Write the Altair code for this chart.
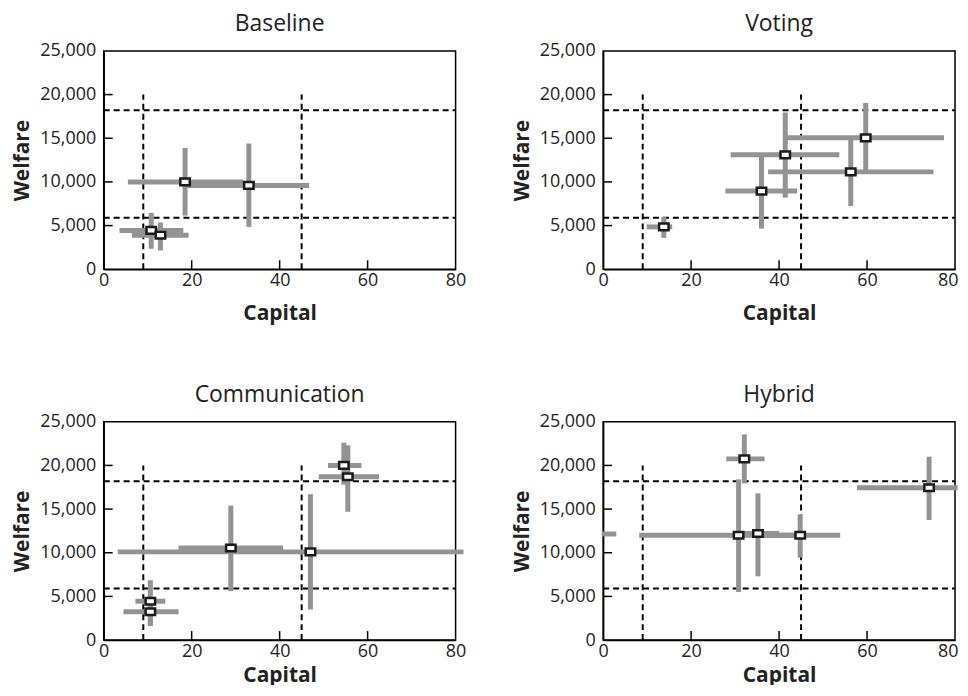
import altair as alt
import pandas as pd

FONT = "Open Sans"
GREY = "#939393"
DARK = "#1a1a1a"

panel_names = ["Baseline", "Voting", "Communication", "Hybrid"]

# Baseline
base_cap = [18.5, 33.0, 10.8, 12.9]
base_welf = [10000, 9600, 4450, 3900]
base_cap_lo = [5.5, 18.9, 3.6, 6.4]
base_cap_hi = [31.7, 46.7, 18.1, 19.3]
base_welf_lo = [6150, 4850, 2350, 2150]
base_welf_hi = [13900, 14400, 6450, 5350]

# Voting
vot_cap = [13.8, 36.0, 41.4, 56.3, 59.7]
vot_welf = [4850, 8950, 13100, 11150, 15050]
vot_cap_lo = [9.9, 27.8, 29.0, 37.5, 41.8]
vot_cap_hi = [15.7, 44.1, 53.7, 75.1, 77.5]
vot_welf_lo = [3600, 4650, 8200, 7250, 11200]
vot_welf_hi = [6000, 13100, 17950, 14900, 19050]

# Communication
com_cap = [10.6, 10.6, 28.9, 47.0, 54.6, 55.5]
com_welf = [4450, 3250, 10550, 10100, 20000, 18700]
com_cap_lo = [7.2, 4.5, 17.0, 3.2, 51.0, 48.9]
com_cap_hi = [14.0, 17.0, 40.8, 81.8, 58.6, 62.6]
com_welf_lo = [1600, 1700, 5600, 3500, 17800, 14700]
com_welf_hi = [6850, 4400, 15400, 16700, 22600, 22300]

# Hybrid
hyb_cap = [32.1, 30.8, 35.2, 44.8, 74.1]
hyb_welf = [20750, 12000, 12200, 12000, 17450]
hyb_cap_lo = [28.0, 8.2, 30.0, 36.0, 57.7]
hyb_cap_hi = [36.7, 45.0, 40.0, 53.9, 80.6]
hyb_welf_lo = [17950, 5500, 7300, 9450, 13750]
hyb_welf_hi = [23550, 18400, 16800, 14400, 21000]
# a stray horizontal bar with no visible marker
hyb_extra_lo = [-0.3]
hyb_extra_hi = [3.0]
hyb_extra_welf = [12150]

# Reference lines
v_lines = [9, 45]
v_line_top = 20000
h_lines = [18200, 5900]

x_ticks = [0, 20, 40, 60, 80]
y_ticks = [0, 5000, 10000, 15000, 20000, 25000]
x_inner_ticks = [20, 40, 60]
y_inner_ticks = [5000, 10000, 15000, 20000]

W, H = 353, 219

xs = alt.Scale(domain=[0, 80], nice=False, zero=False)
ys = alt.Scale(domain=[0, 25000], nice=False, zero=False)

yaxis = alt.Axis(values=y_ticks, ticks=False, grid=False, labelFlush=False, format=",.0f",
                 labelPadding=8, titlePadding=7, domainColor="black", domainWidth=1.5)


def panel(name, cap, welf, clo, chi, wlo, whi, xtp, right_col, extra=None):
    ax_kw = dict(values=x_ticks, ticks=False, grid=False, labelFlush=False,
                 labelPadding=2, titlePadding=xtp, domainColor="black", domainWidth=1.5)
    if right_col:
        # keep the last label inside the page edge
        ax_kw["labelAlign"] = alt.ExprRef(expr="datum.value === 80 ? 'right' : 'center'")
        ax_kw["labelOffset"] = alt.ExprRef(expr="datum.value === 80 ? 3 : 0")
    xaxis = alt.Axis(**ax_kw)

    def X(field):
        return alt.X(field, type="quantitative", scale=xs, axis=xaxis, title="Capital")

    def Y(field):
        return alt.Y(field, type="quantitative", scale=ys, axis=yaxis, title="Welfare")

    df = pd.DataFrame({"cap": cap, "welf": welf, "clo": clo, "chi": chi,
                       "wlo": wlo, "whi": whi})
    vl = pd.DataFrame({"x": v_lines, "y0": [0] * len(v_lines), "y1": [v_line_top] * len(v_lines)})
    hl = pd.DataFrame({"y": h_lines, "x0": [0] * len(h_lines), "x1": [80] * len(h_lines)})
    xt = pd.DataFrame({"t": x_inner_ticks})
    yt = pd.DataFrame({"t": y_inner_ticks})

    dash_v = alt.Chart(vl).mark_rule(color="black", strokeWidth=2, strokeDash=[6, 4]).encode(
        x=X("x"), y=Y("y0"), y2="y1")
    dash_h = alt.Chart(hl).mark_rule(color="black", strokeWidth=2, strokeDash=[6, 4]).encode(
        y=Y("y"), x=X("x0"), x2="x1")
    tick_x = alt.Chart(xt).mark_rule(color="black", strokeWidth=1.5).encode(
        x=X("t"), y=alt.value(H), y2=alt.value(H - 9))
    tick_y = alt.Chart(yt).mark_rule(color="black", strokeWidth=1.5).encode(
        y=Y("t"), x=alt.value(0), x2=alt.value(9))
    hbar = alt.Chart(df).mark_rule(color=GREY, strokeWidth=5).encode(
        x=X("clo"), x2="chi", y=Y("welf"))
    vbar = alt.Chart(df).mark_rule(color=GREY, strokeWidth=5).encode(
        x=X("cap"), y=Y("wlo"), y2="whi")
    layers = [dash_v, dash_h, tick_x, tick_y, hbar, vbar]
    if extra is not None:
        ex = pd.DataFrame({"lo": extra[0], "hi": extra[1], "w": extra[2]})
        layers.append(alt.Chart(ex).mark_rule(color=GREY, strokeWidth=5).encode(
            x=X("lo"), x2="hi", y=Y("w")))
    marks = alt.Chart(df).mark_point(
        shape="M-1,-0.7L1,-0.7L1,0.7L-1,0.7Z", size=90, filled=True, fill="white",
        stroke=DARK, strokeWidth=2.5, opacity=1).encode(x=X("cap"), y=Y("welf"))
    layers.append(marks)
    return alt.layer(*layers).properties(
        width=W, height=H,
        title=alt.Title(name, fontSize=23, font=FONT, fontWeight="normal", offset=6, color="#222"))


p1 = panel(panel_names[0], base_cap, base_welf, base_cap_lo, base_cap_hi, base_welf_lo, base_welf_hi, 13, False)
p2 = panel(panel_names[1], vot_cap, vot_welf, vot_cap_lo, vot_cap_hi, vot_welf_lo, vot_welf_hi, 13, True)
p3 = panel(panel_names[2], com_cap, com_welf, com_cap_lo, com_cap_hi, com_welf_lo, com_welf_hi, 5, False)
p4 = panel(panel_names[3], hyb_cap, hyb_welf, hyb_cap_lo, hyb_cap_hi, hyb_welf_lo, hyb_welf_hi, 5, True,
           extra=(hyb_extra_lo, hyb_extra_hi, hyb_extra_welf))

chart = alt.vconcat(
    alt.hconcat(p1, p2, spacing=43),
    alt.hconcat(p3, p4, spacing=43),
    spacing=59,
).properties(
    padding={"left": 3, "top": 3, "right": -1, "bottom": -3}
).configure_view(
    stroke="black", strokeWidth=1.5
).configure_axis(
    labelFont=FONT, labelFontSize=18, labelColor="#222",
    titleFont=FONT, titleFontSize=21, titleFontWeight="bold", titleColor="#222"
).configure_title(anchor="middle")

chart.save("out.html", embed_options={"renderer": "svg", "actions": False})
